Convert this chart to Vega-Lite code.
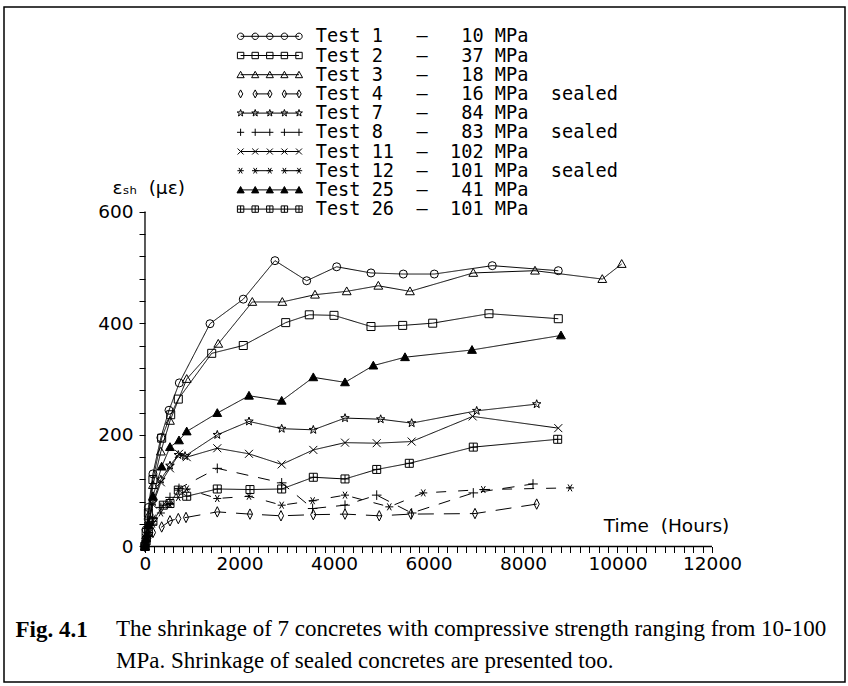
{
  "$schema": "https://vega.github.io/schema/vega-lite/v6.json",
  "width": 841,
  "height": 675,
  "autosize": {"type": "none"},
  "padding": {"left": 4, "top": 7, "right": 3, "bottom": 4},
  "background": "white",
  "config": {"view": {"stroke": "black", "strokeWidth": 1.5}, "axis": {"labelOverlap": false}},
  "title": {
    "text": [
      "The shrinkage of 7 concretes with compressive strength ranging from 10-100",
      "MPa. Shrinkage of sealed concretes are presented too."
    ],
    "orient": "bottom",
    "anchor": "start",
    "frame": "group",
    "offset": -64,
    "dx": 112,
    "font": "Liberation Serif",
    "fontSize": 23,
    "fontWeight": "normal",
    "color": "black",
    "lineHeight": 32
  },
  "resolve": {"axis": {"x": "independent"}},
  "layer": [
    {
      "data": {"values": [{"h": 0, "h2": 12000, "e": 0}]},
      "mark": {"type": "rule", "color": "black", "strokeWidth": 1.3},
      "encoding": {
        "x": {"field": "h", "type": "quantitative", "axis": null, "scale": {"domain": [-2984, 14815], "nice": false, "zero": false}},
        "x2": {"field": "h2"},
        "y": {"field": "e", "type": "quantitative", "scale": {"domain": [-242.7, 966.3], "nice": false, "zero": false}}
      }
    },
    {
      "data": {"values": [{"h": 0, "e": 0, "e2": 600}]},
      "mark": {"type": "rule", "color": "black", "strokeWidth": 1.3},
      "encoding": {
        "x": {
          "field": "h", "type": "quantitative",
          "scale": {"domain": [-2984, 14815], "nice": false, "zero": false},
          "axis": {
            "orient": "bottom", "offset": 0, "labels": false, "ticks": false, "domain": false, "grid": false,
            "title": "Fig. 4.1", "titleFont": "Liberation Serif", "titleFontSize": 23, "titleFontWeight": "bold", "titleColor": "black",
            "titleX": 11, "titleY": -53, "titleAlign": "left", "titleBaseline": "middle", "titleAnchor": null
          }
        },
        "y": {"field": "e", "type": "quantitative", "scale": {"domain": [-242.7, 966.3], "nice": false, "zero": false}},
        "y2": {"field": "e2"}
      }
    },
    {
      "data": {"name": "tests"},
      "mark": {"type": "line", "color": "black", "strokeWidth": 1},
      "encoding": {
        "x": {
          "field": "h", "type": "quantitative",
          "scale": {"domain": [-2984, 14815], "nice": false, "zero": false},
          "axis": {
            "orient": "bottom", "offset": -135.5, "domain": false, "grid": false,
            "values": [0,200,400,600,800,1000,1200,1400,1600,1800,2000,2200,2400,2600,2800,3000,3200,3400,3600,3800,4000,4200,4400,4600,4800,5000,5200,5400,5600,5800,6000,6200,6400,6600,6800,7000,7200,7400,7600,7800,8000,8200,8400,8600,8800,9000,9200,9400,9600,9800,10000,10200,10400,10600,10800,11000,11200,11400,11600,11800,12000],
            "format": "d",
            "labelExpr": "datum.value % 2000 === 0 ? datum.label : ''",
            "tickSize": 6, "tickColor": "black", "tickWidth": 1,
            "labelFont": "DejaVu Sans", "labelFontSize": 18.5, "labelColor": "black", "labelPadding": 2,
            "labelOverlap": false, "labelFlush": false, "labelBound": false,
            "title": "Time\u00a0\u00a0(Hours)",
            "titleFont": "DejaVu Sans", "titleFontSize": 18.5, "titleFontWeight": "normal", "titleColor": "black",
            "titleX": 662, "titleY": -21.5, "titleAlign": "center", "titleBaseline": "middle", "titleAnchor": null
          }
        },
        "y": {
          "field": "e", "type": "quantitative",
          "scale": {"domain": [-242.7, 966.3], "nice": false, "zero": false},
          "axis": {
            "orient": "left", "offset": -141, "domain": false, "grid": false,
            "values": [0,20,40,60,80,100,120,140,160,180,200,220,240,260,280,300,320,340,360,380,400,420,440,460,480,500,520,540,560,580,600],
            "format": "d",
            "labelExpr": "datum.value % 200 === 0 ? datum.label : ''",
            "tickSize": 6, "tickColor": "black", "tickWidth": 1,
            "labelFont": "DejaVu Sans", "labelFontSize": 18.5, "labelColor": "black", "labelPadding": 6,
            "labelOverlap": false, "labelFlush": false, "labelBound": false,
            "title": "εₛₕ\u00a0\u00a0(με)",
            "titleFont": "DejaVu Sans", "titleFontSize": 18.5, "titleFontWeight": "normal", "titleColor": "black",
            "titleAngle": 0, "titleX": -33, "titleY": 180, "titleAlign": "left", "titleBaseline": "middle"
          }
        },
        "detail": {"field": "test"},
        "strokeDash": {
          "condition": [
            {"test": "datum.test === 'T4'", "value": [16, 10]},
            {"test": "datum.test === 'T8'", "value": [12, 10]},
            {"test": "datum.test === 'T12'", "value": [10, 12]}
          ],
          "value": [1, 0]
        }
      }
    },
    {
      "data": {"name": "tests"},
      "mark": {"type": "point", "filled": true, "stroke": "black", "strokeWidth": 1, "size": 64, "opacity": 1},
      "encoding": {
        "x": {"field": "h", "type": "quantitative", "axis": null, "scale": {"domain": [-2984, 14815], "nice": false, "zero": false}},
        "y": {"field": "e", "type": "quantitative", "scale": {"domain": [-242.7, 966.3], "nice": false, "zero": false}},
        "fill": {"condition": {"test": "datum.test === 'T25'", "value": "black"}, "value": "transparent"},
        "shape": {
          "condition": [
            {"test": "datum.test === 'T1'", "value": "circle"},
            {"test": "datum.test === 'T2'", "value": "M-1,-1H1V1H-1Z"},
            {"test": "datum.test === 'T3' || datum.test === 'T25'", "value": "M0,-1.1L1.1,0.85L-1.1,0.85Z"},
            {"test": "datum.test === 'T4'", "value": "M0,-1.3L0.65,0L0,1.3L-0.65,0Z"},
            {"test": "datum.test === 'T7'", "value": "M0,-1.1L0.26,-0.36L1.05,-0.34L0.42,0.14L0.65,0.89L0,0.44L-0.65,0.89L-0.42,0.14L-1.05,-0.34L-0.26,-0.36Z"},
            {"test": "datum.test === 'T8'", "value": "M-1.2,0H1.2M0,-1.2V1.2"},
            {"test": "datum.test === 'T11'", "value": "M-1,-1L1,1M-1,1L1,-1"},
            {"test": "datum.test === 'T12'", "value": "M-1,0H1M-0.5,-0.87L0.5,0.87M-0.5,0.87L0.5,-0.87"},
            {"test": "datum.test === 'T26'", "value": "M-1,-1H1V1H-1ZM0,-1V1M-1,0H1"}
          ],
          "value": "circle"
        }
      }
    },
    {
      "data": {"name": "tests"},
      "transform": [{"filter": "false"}],
      "mark": {"type": "point", "filled": true, "strokeWidth": 1, "opacity": 1},
      "encoding": {
        "x": {"field": "h", "type": "quantitative", "axis": null, "scale": {"domain": [-2984, 14815], "nice": false, "zero": false}},
        "y": {"field": "e", "type": "quantitative", "scale": {"domain": [-242.7, 966.3], "nice": false, "zero": false}},
        "stroke": {
          "field": "test", "type": "nominal",
          "scale": {
            "domain": ["T1","T2","T3","T4","T7","T8","T11","T12","T25","T26"],
            "range": ["black","black","black","black","black","black","black","black","black","black"]
          },
          "legend": {
            "orient": "none", "legendX": 256.5, "legendY": 20, "title": null, "padding": 0,
            "symbolSize": 16, "symbolStrokeWidth": 1,
            "labelFont": "DejaVu Sans Mono", "labelFontSize": 18.6, "labelColor": "black",
            "labelOffset": 36.6, "rowPadding": 0.2, "labelLimit": 600,
            "labelExpr": "{'T1':'Test\u00a01\u00a0\u00a0\u00a0—\u00a0\u00a0\u00a010\u00a0MPa','T2':'Test\u00a02\u00a0\u00a0\u00a0—\u00a0\u00a0\u00a037\u00a0MPa','T3':'Test\u00a03\u00a0\u00a0\u00a0—\u00a0\u00a0\u00a018\u00a0MPa','T4':'Test\u00a04\u00a0\u00a0\u00a0—\u00a0\u00a0\u00a016\u00a0MPa\u00a0\u00a0sealed','T7':'Test\u00a07\u00a0\u00a0\u00a0—\u00a0\u00a0\u00a084\u00a0MPa','T8':'Test\u00a08\u00a0\u00a0\u00a0—\u00a0\u00a0\u00a083\u00a0MPa\u00a0\u00a0sealed','T11':'Test\u00a011\u00a0\u00a0—\u00a0\u00a0102\u00a0MPa','T12':'Test\u00a012\u00a0\u00a0—\u00a0\u00a0101\u00a0MPa\u00a0\u00a0sealed','T25':'Test\u00a025\u00a0\u00a0—\u00a0\u00a0\u00a041\u00a0MPa','T26':'Test\u00a026\u00a0\u00a0—\u00a0\u00a0101\u00a0MPa'}[datum.value]"
          }
        },
        "fill": {
          "field": "test", "type": "nominal",
          "scale": {
            "domain": ["T1","T2","T3","T4","T7","T8","T11","T12","T25","T26"],
            "range": ["transparent","transparent","transparent","transparent","transparent","transparent","transparent","transparent","black","transparent"]
          },
          "legend": {
            "orient": "none", "legendX": 256.5, "legendY": 20, "title": null, "padding": 0,
            "symbolSize": 16, "symbolStrokeWidth": 1,
            "labelFont": "DejaVu Sans Mono", "labelFontSize": 18.6, "labelColor": "black",
            "labelOffset": 36.6, "rowPadding": 0.2, "labelLimit": 600,
            "labelExpr": "{'T1':'Test\u00a01\u00a0\u00a0\u00a0—\u00a0\u00a0\u00a010\u00a0MPa','T2':'Test\u00a02\u00a0\u00a0\u00a0—\u00a0\u00a0\u00a037\u00a0MPa','T3':'Test\u00a03\u00a0\u00a0\u00a0—\u00a0\u00a0\u00a018\u00a0MPa','T4':'Test\u00a04\u00a0\u00a0\u00a0—\u00a0\u00a0\u00a016\u00a0MPa\u00a0\u00a0sealed','T7':'Test\u00a07\u00a0\u00a0\u00a0—\u00a0\u00a0\u00a084\u00a0MPa','T8':'Test\u00a08\u00a0\u00a0\u00a0—\u00a0\u00a0\u00a083\u00a0MPa\u00a0\u00a0sealed','T11':'Test\u00a011\u00a0\u00a0—\u00a0\u00a0102\u00a0MPa','T12':'Test\u00a012\u00a0\u00a0—\u00a0\u00a0101\u00a0MPa\u00a0\u00a0sealed','T25':'Test\u00a025\u00a0\u00a0—\u00a0\u00a0\u00a041\u00a0MPa','T26':'Test\u00a026\u00a0\u00a0—\u00a0\u00a0101\u00a0MPa'}[datum.value]"
          }
        },
        "shape": {
          "field": "test", "type": "nominal",
          "scale": {
            "domain": ["T1","T2","T3","T4","T7","T8","T11","T12","T25","T26"],
            "range": [
              "M-14.6,0H14.6M-13,0A1.6,1.6,0,1,1,-16.2,0A1.6,1.6,0,1,1,-13,0ZM-5.7,0A1.6,1.6,0,1,1,-8.9,0A1.6,1.6,0,1,1,-5.7,0ZM1.6,0A1.6,1.6,0,1,1,-1.6,0A1.6,1.6,0,1,1,1.6,0ZM8.9,0A1.6,1.6,0,1,1,5.7,0A1.6,1.6,0,1,1,8.9,0ZM16.2,0A1.6,1.6,0,1,1,13,0A1.6,1.6,0,1,1,16.2,0Z",
              "M-14.6,0H14.6M-16.2,-1.6H-13V1.6H-16.2ZM-8.9,-1.6H-5.7V1.6H-8.9ZM-1.6,-1.6H1.6V1.6H-1.6ZM5.7,-1.6H8.9V1.6H5.7ZM13,-1.6H16.2V1.6H13Z",
              "M-14.6,0H14.6M-14.6,-1.7L-12.8,1.5L-16.4,1.5ZM-7.3,-1.7L-5.5,1.5L-9.1,1.5ZM0,-1.7L1.8,1.5L-1.8,1.5ZM7.3,-1.7L9.1,1.5L5.5,1.5ZM14.6,-1.7L16.4,1.5L12.8,1.5Z",
              "M-7.3,0H0M7.3,0H14.6M-14.6,-2L-13.5,0L-14.6,2L-15.7,0ZM-7.3,-2L-6.2,0L-7.3,2L-8.4,0ZM0,-2L1.1,0L0,2L-1.1,0ZM7.3,-2L8.4,0L7.3,2L6.2,0ZM14.6,-2L15.7,0L14.6,2L13.5,0Z",
              "M-14.6,0H14.6M-14.6,-1.8L-14.18,-0.58L-12.89,-0.56L-13.92,0.22L-13.54,1.46L-14.6,0.72L-15.66,1.46L-15.28,0.22L-16.31,-0.56L-15.02,-0.58ZM-7.3,-1.8L-6.88,-0.58L-5.59,-0.56L-6.62,0.22L-6.24,1.46L-7.3,0.72L-8.36,1.46L-7.98,0.22L-9.01,-0.56L-7.72,-0.58ZM0,-1.8L0.42,-0.58L1.71,-0.56L0.68,0.22L1.06,1.46L0,0.72L-1.06,1.46L-0.68,0.22L-1.71,-0.56L-0.42,-0.58ZM7.3,-1.8L7.72,-0.58L9.01,-0.56L7.98,0.22L8.36,1.46L7.3,0.72L6.24,1.46L6.62,0.22L5.59,-0.56L6.88,-0.58ZM14.6,-1.8L15.02,-0.58L16.31,-0.56L15.28,0.22L15.66,1.46L14.6,0.72L13.54,1.46L13.92,0.22L12.89,-0.56L14.18,-0.58Z",
              "M-16.4,0H-12.8M-9.1,0H1.8M5.5,0H16.4M-14.6,-1.8V1.8M-7.3,-1.8V1.8M0,-1.8V1.8M7.3,-1.8V1.8M14.6,-1.8V1.8",
              "M-14.6,0H14.6M-16.1,-1.5L-13.1,1.5M-16.1,1.5L-13.1,-1.5M-8.8,-1.5L-5.8,1.5M-8.8,1.5L-5.8,-1.5M-1.5,-1.5L1.5,1.5M-1.5,1.5L1.5,-1.5M5.8,-1.5L8.8,1.5M5.8,1.5L8.8,-1.5M13.1,-1.5L16.1,1.5M13.1,1.5L16.1,-1.5",
              "M-7.3,0H0M7.3,0H14.6M-16.2,0H-13M-15.4,-1.4L-13.8,1.4M-15.4,1.4L-13.8,-1.4M-8.9,0H-5.7M-8.1,-1.4L-6.5,1.4M-8.1,1.4L-6.5,-1.4M-1.6,0H1.6M-0.8,-1.4L0.8,1.4M-0.8,1.4L0.8,-1.4M5.7,0H8.9M6.5,-1.4L8.1,1.4M6.5,1.4L8.1,-1.4M13,0H16.2M13.8,-1.4L15.4,1.4M13.8,1.4L15.4,-1.4",
              "M-14.6,0H14.6M-14.6,-1.7L-12.8,1.5L-16.4,1.5ZM-7.3,-1.7L-5.5,1.5L-9.1,1.5ZM0,-1.7L1.8,1.5L-1.8,1.5ZM7.3,-1.7L9.1,1.5L5.5,1.5ZM14.6,-1.7L16.4,1.5L12.8,1.5Z",
              "M-16.2,0H16.2M-16.2,-1.6H-13V1.6H-16.2ZM-14.6,-1.6V1.6M-8.9,-1.6H-5.7V1.6H-8.9ZM-7.3,-1.6V1.6M-1.6,-1.6H1.6V1.6H-1.6ZM0,-1.6V1.6M5.7,-1.6H8.9V1.6H5.7ZM7.3,-1.6V1.6M13,-1.6H16.2V1.6H13ZM14.6,-1.6V1.6"
            ]
          },
          "legend": {
            "orient": "none", "legendX": 256.5, "legendY": 20, "title": null, "padding": 0,
            "symbolSize": 16, "symbolStrokeWidth": 1,
            "labelFont": "DejaVu Sans Mono", "labelFontSize": 18.6, "labelColor": "black",
            "labelOffset": 36.6, "rowPadding": 0.2, "labelLimit": 600,
            "labelExpr": "{'T1':'Test\u00a01\u00a0\u00a0\u00a0—\u00a0\u00a0\u00a010\u00a0MPa','T2':'Test\u00a02\u00a0\u00a0\u00a0—\u00a0\u00a0\u00a037\u00a0MPa','T3':'Test\u00a03\u00a0\u00a0\u00a0—\u00a0\u00a0\u00a018\u00a0MPa','T4':'Test\u00a04\u00a0\u00a0\u00a0—\u00a0\u00a0\u00a016\u00a0MPa\u00a0\u00a0sealed','T7':'Test\u00a07\u00a0\u00a0\u00a0—\u00a0\u00a0\u00a084\u00a0MPa','T8':'Test\u00a08\u00a0\u00a0\u00a0—\u00a0\u00a0\u00a083\u00a0MPa\u00a0\u00a0sealed','T11':'Test\u00a011\u00a0\u00a0—\u00a0\u00a0102\u00a0MPa','T12':'Test\u00a012\u00a0\u00a0—\u00a0\u00a0101\u00a0MPa\u00a0\u00a0sealed','T25':'Test\u00a025\u00a0\u00a0—\u00a0\u00a0\u00a041\u00a0MPa','T26':'Test\u00a026\u00a0\u00a0—\u00a0\u00a0101\u00a0MPa'}[datum.value]"
          }
        }
      }
    }
  ],
  "datasets": {
    "tests": [
      {"test":"T1","h":0,"e":0},{"test":"T1","h":24,"e":30},{"test":"T1","h":72,"e":70},{"test":"T1","h":168,"e":130},{"test":"T1","h":336,"e":195},{"test":"T1","h":508,"e":244},{"test":"T1","h":726,"e":293},{"test":"T1","h":1376,"e":399},{"test":"T1","h":2080,"e":443},{"test":"T1","h":2751,"e":512},{"test":"T1","h":3422,"e":476},{"test":"T1","h":4057,"e":501},{"test":"T1","h":4783,"e":490},{"test":"T1","h":5467,"e":488},{"test":"T1","h":6123,"e":488},{"test":"T1","h":7350,"e":503},{"test":"T1","h":8747,"e":494},
      {"test":"T2","h":0,"e":0},{"test":"T2","h":24,"e":25},{"test":"T2","h":72,"e":60},{"test":"T2","h":168,"e":120},{"test":"T2","h":353,"e":194},{"test":"T2","h":544,"e":236},{"test":"T2","h":705,"e":264},{"test":"T2","h":1412,"e":346},{"test":"T2","h":2080,"e":360},{"test":"T2","h":2978,"e":401},{"test":"T2","h":3477,"e":415},{"test":"T2","h":4000,"e":414},{"test":"T2","h":4783,"e":394},{"test":"T2","h":5454,"e":396},{"test":"T2","h":6089,"e":400},{"test":"T2","h":7280,"e":417},{"test":"T2","h":8747,"e":408},
      {"test":"T3","h":0,"e":0},{"test":"T3","h":24,"e":20},{"test":"T3","h":72,"e":55},{"test":"T3","h":168,"e":110},{"test":"T3","h":336,"e":170},{"test":"T3","h":529,"e":225},{"test":"T3","h":883,"e":300},{"test":"T3","h":1551,"e":363},{"test":"T3","h":2271,"e":438},{"test":"T3","h":2906,"e":438},{"test":"T3","h":3598,"e":451},{"test":"T3","h":4269,"e":457},{"test":"T3","h":4938,"e":467},{"test":"T3","h":5608,"e":457},{"test":"T3","h":6948,"e":490},{"test":"T3","h":8254,"e":494},{"test":"T3","h":9678,"e":479},{"test":"T3","h":10089,"e":506},
      {"test":"T4","h":0,"e":0},{"test":"T4","h":24,"e":8},{"test":"T4","h":72,"e":15},{"test":"T4","h":168,"e":25},{"test":"T4","h":353,"e":35},{"test":"T4","h":529,"e":46},{"test":"T4","h":705,"e":50},{"test":"T4","h":868,"e":52},{"test":"T4","h":1530,"e":62},{"test":"T4","h":2222,"e":58},{"test":"T4","h":2878,"e":55},{"test":"T4","h":3562,"e":57},{"test":"T4","h":4233,"e":58},{"test":"T4","h":4958,"e":55},{"test":"T4","h":5630,"e":58},{"test":"T4","h":6984,"e":59},{"test":"T4","h":8290,"e":76},
      {"test":"T7","h":0,"e":0},{"test":"T7","h":24,"e":15},{"test":"T7","h":72,"e":40},{"test":"T7","h":168,"e":80},{"test":"T7","h":336,"e":120},{"test":"T7","h":529,"e":145},{"test":"T7","h":705,"e":164},{"test":"T7","h":847,"e":162},{"test":"T7","h":1530,"e":200},{"test":"T7","h":2201,"e":224},{"test":"T7","h":2893,"e":211},{"test":"T7","h":3562,"e":209},{"test":"T7","h":4233,"e":230},{"test":"T7","h":4988,"e":228},{"test":"T7","h":5644,"e":221},{"test":"T7","h":7020,"e":243},{"test":"T7","h":8290,"e":255},
      {"test":"T8","h":0,"e":0},{"test":"T8","h":24,"e":10},{"test":"T8","h":72,"e":25},{"test":"T8","h":168,"e":50},{"test":"T8","h":336,"e":70},{"test":"T8","h":529,"e":88},{"test":"T8","h":720,"e":104},{"test":"T8","h":1530,"e":140},{"test":"T8","h":2893,"e":114},{"test":"T8","h":3548,"e":68},{"test":"T8","h":4233,"e":74},{"test":"T8","h":4904,"e":92},{"test":"T8","h":5644,"e":60},{"test":"T8","h":6948,"e":96},{"test":"T8","h":8212,"e":112},
      {"test":"T11","h":0,"e":0},{"test":"T11","h":24,"e":15},{"test":"T11","h":72,"e":40},{"test":"T11","h":168,"e":75},{"test":"T11","h":336,"e":115},{"test":"T11","h":529,"e":140},{"test":"T11","h":720,"e":166},{"test":"T11","h":883,"e":160},{"test":"T11","h":1530,"e":176},{"test":"T11","h":2201,"e":166},{"test":"T11","h":2893,"e":147},{"test":"T11","h":3562,"e":173},{"test":"T11","h":4233,"e":186},{"test":"T11","h":4904,"e":185},{"test":"T11","h":5644,"e":188},{"test":"T11","h":6935,"e":233},{"test":"T11","h":8747,"e":212},
      {"test":"T12","h":0,"e":0},{"test":"T12","h":24,"e":8},{"test":"T12","h":72,"e":20},{"test":"T12","h":168,"e":40},{"test":"T12","h":336,"e":60},{"test":"T12","h":529,"e":75},{"test":"T12","h":705,"e":88},{"test":"T12","h":883,"e":103},{"test":"T12","h":1530,"e":86},{"test":"T12","h":2201,"e":90},{"test":"T12","h":2893,"e":74},{"test":"T12","h":3548,"e":82},{"test":"T12","h":4233,"e":92},{"test":"T12","h":5171,"e":71},{"test":"T12","h":5890,"e":96},{"test":"T12","h":7160,"e":102},{"test":"T12","h":8995,"e":105},
      {"test":"T25","h":0,"e":0},{"test":"T25","h":24,"e":15},{"test":"T25","h":72,"e":40},{"test":"T25","h":168,"e":90},{"test":"T25","h":353,"e":143},{"test":"T25","h":529,"e":178},{"test":"T25","h":720,"e":190},{"test":"T25","h":883,"e":206},{"test":"T25","h":1530,"e":239},{"test":"T25","h":2201,"e":270},{"test":"T25","h":2893,"e":261},{"test":"T25","h":3562,"e":303},{"test":"T25","h":4233,"e":294},{"test":"T25","h":4832,"e":324},{"test":"T25","h":5503,"e":339},{"test":"T25","h":6921,"e":352},{"test":"T25","h":8804,"e":378},
      {"test":"T26","h":0,"e":0},{"test":"T26","h":24,"e":10},{"test":"T26","h":72,"e":25},{"test":"T26","h":168,"e":45},{"test":"T26","h":388,"e":74},{"test":"T26","h":529,"e":77},{"test":"T26","h":705,"e":101},{"test":"T26","h":883,"e":90},{"test":"T26","h":1530,"e":103},{"test":"T26","h":2222,"e":102},{"test":"T26","h":2893,"e":103},{"test":"T26","h":3562,"e":124},{"test":"T26","h":4233,"e":121},{"test":"T26","h":4904,"e":138},{"test":"T26","h":5594,"e":149},{"test":"T26","h":6948,"e":178},{"test":"T26","h":8734,"e":192}
    ]
  }
}
